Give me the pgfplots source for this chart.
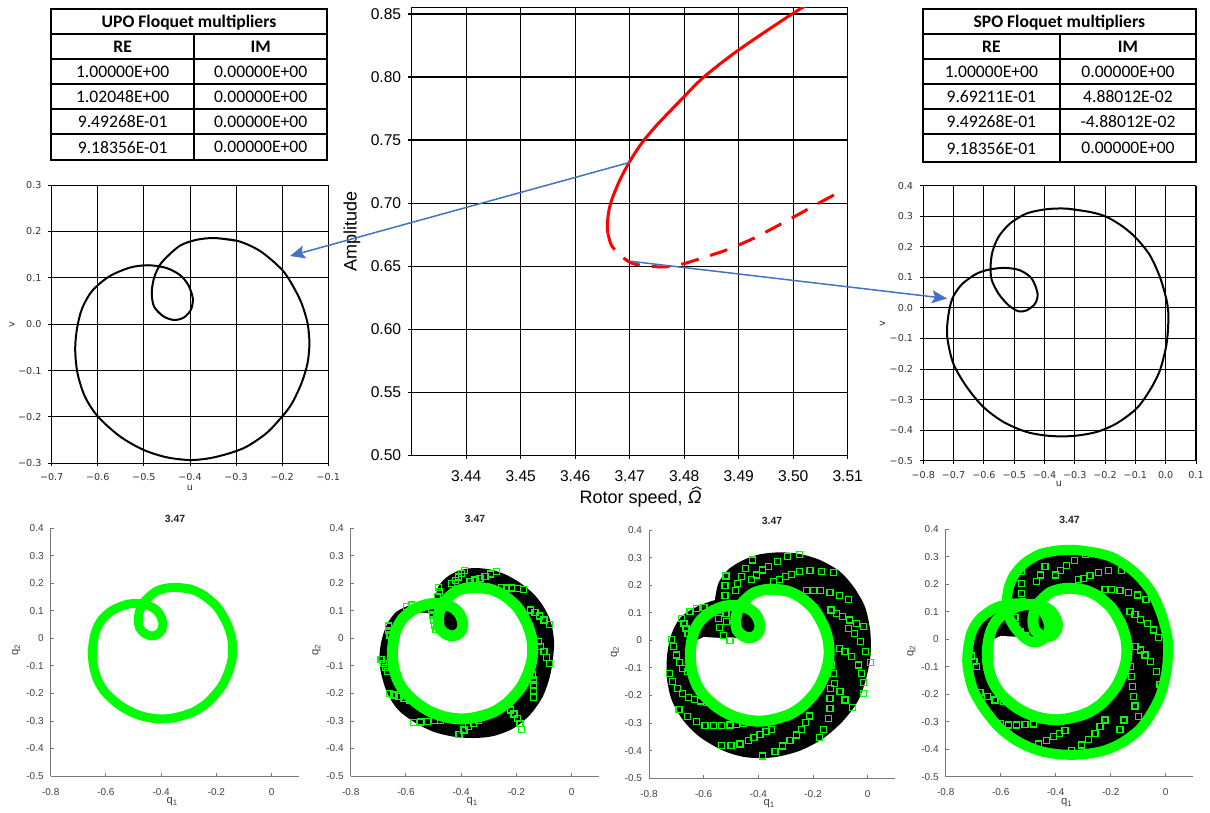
\documentclass[border=0pt]{standalone}
\usepackage{pgfplots}
\pgfplotsset{compat=1.18}
\usepackage{pgfplotstable}
\usepackage{fontspec}
\setmainfont{Liberation Sans}
\newfontfamily\dejavu{DejaVu Sans}
\newfontfamily\carlito{Carlito}
\usetikzlibrary{arrows.meta}
\definecolor{mgreen}{RGB}{0,255,0}
\definecolor{ablue}{RGB}{68,114,196}
\definecolor{mtext}{RGB}{64,64,64}
\definecolor{maxis}{RGB}{120,120,120}

\pgfplotstableread{
u v
-0.3457 0.1856
-0.295 0.179
-0.247 0.157
-0.200 0.117
-0.176 0.081
-0.158 0.045
-0.145 0.002
-0.141 -0.041
-0.145 -0.084
-0.158 -0.127
-0.179 -0.171
-0.200 -0.199
-0.234 -0.235
-0.277 -0.264
-0.313 -0.278
-0.357 -0.289
-0.400 -0.293
-0.451 -0.287
-0.501 -0.271
-0.552 -0.242
-0.600 -0.199
-0.628 -0.156
-0.644 -0.106
-0.649 -0.055
-0.645 -0.009
-0.634 0.034
-0.612 0.072
-0.575 0.103
-0.530 0.122
-0.490 0.127
-0.451 0.121
-0.422 0.106
-0.404 0.085
-0.394 0.056
-0.398 0.031
-0.414 0.014
-0.435 0.009
-0.458 0.017
-0.478 0.038
-0.483 0.067
-0.479 0.096
-0.471 0.117
-0.458 0.137
-0.422 0.169
-0.385 0.182
-0.3457 0.1856
-0.295 0.179
}\upo

\pgfplotstableread{
u v
-0.327 0.325
-0.250 0.314
-0.195 0.298
-0.140 0.265
-0.096 0.227
-0.052 0.172
-0.019 0.101
0.003 0.025
0.009 -0.029
0.003 -0.117
-0.019 -0.204
-0.052 -0.269
-0.096 -0.329
-0.162 -0.378
-0.228 -0.406
-0.305 -0.419
-0.382 -0.419
-0.459 -0.406
-0.536 -0.373
-0.602 -0.324
-0.657 -0.258
-0.701 -0.182
-0.721 -0.095
-0.718 -0.029
-0.704 0.031
-0.673 0.077
-0.624 0.112
-0.580 0.126
-0.530 0.131
-0.481 0.123
-0.442 0.096
-0.423 0.047
-0.431 0.014
-0.459 -0.008
-0.486 -0.011
-0.519 0.009
-0.552 0.047
-0.574 0.091
-0.578 0.134
-0.572 0.183
-0.552 0.232
-0.514 0.276
-0.459 0.309
-0.393 0.323
-0.327 0.325
-0.250 0.314
}\spo

\pgfplotstableread{
x y
-0.471 0.117
-0.458 0.137
-0.422 0.169
-0.385 0.182
-0.3457 0.1856
-0.295 0.179
-0.247 0.157
-0.200 0.117
-0.176 0.081
-0.158 0.045
-0.145 0.002
-0.141 -0.041
-0.145 -0.084
-0.158 -0.127
-0.179 -0.171
-0.200 -0.199
-0.234 -0.235
-0.277 -0.264
-0.313 -0.278
-0.357 -0.289
-0.400 -0.293
-0.451 -0.287
-0.501 -0.271
-0.552 -0.242
-0.600 -0.199
-0.628 -0.156
-0.644 -0.106
-0.649 -0.055
-0.645 -0.009
-0.600 0.012
-0.520 0.008
-0.458 0.010
-0.435 0.009
-0.414 0.014
-0.398 0.031
-0.394 0.056
-0.404 0.085
-0.422 0.106
-0.451 0.121
-0.471 0.117
}\holeA

\pgfplotstableread{
x y
-0.471 0.117
-0.458 0.137
-0.422 0.169
-0.385 0.182
-0.3457 0.1856
-0.295 0.179
-0.247 0.157
-0.200 0.117
-0.176 0.081
-0.158 0.045
-0.145 0.002
-0.141 -0.041
-0.145 -0.084
-0.158 -0.127
-0.179 -0.171
-0.200 -0.199
-0.234 -0.235
-0.277 -0.264
-0.313 -0.278
-0.357 -0.289
-0.400 -0.293
-0.451 -0.287
-0.501 -0.271
-0.552 -0.242
-0.600 -0.199
-0.628 -0.156
-0.644 -0.106
-0.649 -0.055
-0.645 -0.009
-0.634 0.034
-0.605 0.072
-0.560 0.095
-0.520 0.092
-0.497 0.065
-0.480 0.030
-0.458 0.015
-0.435 0.009
-0.414 0.014
-0.398 0.031
-0.394 0.056
-0.404 0.085
-0.422 0.106
-0.451 0.121
-0.471 0.117
}\holeB

\pgfplotstableread{
x y
-0.501 0.139
-0.483 0.188
-0.453 0.222
-0.416 0.243
-0.374 0.254
-0.332 0.255
-0.284 0.248
-0.235 0.230
-0.187 0.202
-0.139 0.163
-0.103 0.117
-0.076 0.061
-0.064 -0.006
-0.067 -0.067
-0.079 -0.139
-0.105 -0.212
-0.151 -0.278
-0.211 -0.327
-0.284 -0.355
-0.356 -0.362
-0.428 -0.357
-0.501 -0.339
-0.567 -0.306
-0.628 -0.260
-0.667 -0.200
-0.690 -0.127
-0.696 -0.067
-0.688 -0.006
-0.667 0.054
-0.634 0.097
-0.585 0.121
-0.537 0.133
-0.501 0.139
}\envB

\pgfplotstableread{
x y
-0.559 0.146
-0.546 0.207
-0.510 0.257
-0.455 0.291
-0.394 0.312
-0.321 0.319
-0.248 0.313
-0.174 0.291
-0.101 0.249
-0.050 0.192
-0.010 0.122
0.009 0.037
0.011 -0.047
-0.004 -0.132
-0.034 -0.217
-0.089 -0.291
-0.162 -0.355
-0.248 -0.400
-0.345 -0.424
-0.443 -0.424
-0.528 -0.400
-0.613 -0.351
-0.674 -0.291
-0.717 -0.216
-0.735 -0.132
-0.733 -0.047
-0.717 0.025
-0.687 0.080
-0.644 0.112
-0.601 0.132
-0.559 0.146
}\envC

\pgfplotstableread{
x y
-0.389 0.248
-0.400 0.235
-0.409 0.223
-0.421 0.209
-0.434 0.200
-0.482 0.185
-0.479 0.169
-0.486 0.151
-0.272 0.242
-0.293 0.234
-0.314 0.224
-0.332 0.218
-0.350 0.212
-0.368 0.206
-0.173 0.178
-0.197 0.182
-0.217 0.183
-0.235 0.183
-0.254 0.185
-0.081 0.051
-0.100 0.067
-0.117 0.081
-0.133 0.093
-0.149 0.103
-0.079 -0.091
-0.091 -0.069
-0.100 -0.048
-0.112 -0.030
-0.121 -0.012
-0.139 -0.214
-0.139 -0.190
-0.139 -0.169
-0.139 -0.151
-0.143 -0.133
-0.181 -0.331
-0.187 -0.309
-0.197 -0.291
-0.209 -0.275
-0.221 -0.260
-0.408 -0.349
-0.390 -0.333
-0.373 -0.321
-0.356 -0.309
-0.338 -0.297
-0.573 -0.306
-0.547 -0.304
-0.523 -0.301
-0.498 -0.299
-0.474 -0.297
-0.660 -0.200
-0.643 -0.206
-0.625 -0.212
-0.607 -0.218
-0.588 -0.224
-0.690 -0.076
-0.682 -0.091
-0.675 -0.105
-0.667 -0.121
-0.664 0.045
-0.662 0.028
-0.658 0.012
-0.597 0.117
-0.579 0.121
-0.507 0.103
-0.503 0.085
-0.501 0.067
-0.497 0.048
-0.491 0.033
}\armsB

\pgfplotstableread{
x y
-0.250 0.312
-0.293 0.303
-0.330 0.285
-0.363 0.269
-0.384 0.255
-0.406 0.237
-0.424 0.222
-0.422 0.291
-0.446 0.261
-0.461 0.231
-0.477 0.207
-0.485 0.182
-0.518 0.233
-0.522 0.200
-0.522 0.164
-0.522 0.128
-0.518 0.098
-0.516 0.068
-0.126 0.245
-0.168 0.251
-0.211 0.252
-0.248 0.249
-0.278 0.240
-0.302 0.231
-0.323 0.221
-0.345 0.213
-0.071 0.149
-0.104 0.164
-0.138 0.173
-0.172 0.180
-0.199 0.180
-0.223 0.182
-0.016 0.050
-0.040 0.062
-0.067 0.074
-0.091 0.086
-0.113 0.098
-0.134 0.110
0.009 -0.081
-0.007 -0.041
-0.026 -0.005
-0.049 0.025
-0.071 0.043
-0.016 -0.192
-0.016 -0.153
-0.022 -0.120
-0.034 -0.089
-0.059 -0.059
-0.083 -0.041
-0.104 -0.029
-0.056 -0.243
-0.083 -0.216
-0.101 -0.186
-0.120 -0.156
-0.126 -0.120
-0.132 -0.089
-0.177 -0.353
-0.162 -0.322
-0.144 -0.283
-0.138 -0.246
-0.138 -0.210
-0.135 -0.174
-0.384 -0.419
-0.339 -0.403
-0.311 -0.383
-0.284 -0.364
-0.260 -0.343
-0.241 -0.322
-0.226 -0.298
-0.213 -0.274
-0.534 -0.382
-0.500 -0.382
-0.467 -0.376
-0.437 -0.364
-0.416 -0.351
-0.394 -0.341
-0.372 -0.331
-0.351 -0.322
-0.595 -0.310
-0.565 -0.308
-0.534 -0.308
-0.504 -0.307
-0.479 -0.304
-0.455 -0.301
-0.690 -0.252
-0.660 -0.277
-0.626 -0.295
-0.726 -0.120
-0.715 -0.150
-0.696 -0.174
-0.677 -0.194
-0.656 -0.207
-0.634 -0.214
-0.613 -0.220
-0.591 -0.225
-0.717 0.004
-0.709 -0.023
-0.699 -0.053
-0.689 -0.081
-0.677 -0.101
-0.660 -0.114
-0.680 0.080
-0.672 0.062
-0.665 0.043
-0.657 0.025
-0.650 0.104
-0.626 0.116
-0.599 0.120
-0.550 0.110
-0.546 0.080
-0.543 0.046
-0.526 0.019
-0.504 -0.001
}\armsC

\pgfplotstableread{
x y
-0.293 0.307
-0.332 0.286
-0.360 0.267
-0.382 0.250
-0.402 0.234
-0.439 0.265
-0.455 0.234
-0.469 0.210
-0.524 0.246
-0.524 0.204
-0.524 0.167
-0.520 0.137
-0.162 0.250
-0.208 0.250
-0.245 0.243
-0.275 0.231
-0.299 0.222
-0.318 0.216
-0.072 0.146
-0.103 0.161
-0.136 0.170
-0.166 0.177
-0.196 0.180
-0.221 0.182
-0.027 0.006
-0.045 0.034
-0.067 0.056
-0.091 0.073
-0.112 0.089
-0.130 0.101
-0.021 -0.166
-0.033 -0.118
-0.055 -0.081
-0.075 -0.057
-0.093 -0.039
-0.112 -0.027
-0.099 -0.282
-0.112 -0.243
-0.118 -0.209
-0.120 -0.172
-0.124 -0.136
-0.127 -0.100
-0.166 -0.328
-0.152 -0.294
-0.342 -0.405
-0.305 -0.385
-0.281 -0.364
-0.257 -0.342
-0.239 -0.318
-0.221 -0.294
-0.499 -0.391
-0.463 -0.381
-0.433 -0.367
-0.408 -0.354
-0.387 -0.342
-0.366 -0.333
-0.602 -0.306
-0.572 -0.312
-0.542 -0.312
-0.512 -0.311
-0.481 -0.308
-0.675 -0.194
-0.648 -0.209
-0.621 -0.221
-0.590 -0.227
-0.705 -0.061
-0.697 -0.081
-0.687 -0.100
-0.548 0.080
-0.545 0.050
-0.530 0.028
-0.510 0.012
}\armsD

\pgfplotsset{
  phase/.style={scale only axis, grid=major,
    major grid style={black, line width=0.45pt},
    axis line style={black, line width=0.5pt},
    tick align=outside, tick pos=left, major tick length=1.6pt,
    tick style={black, line width=0.45pt},
    tick label style={font=\dejavu\fontsize{4.8}{5.6}\selectfont, text=black!80},
    label style={font=\dejavu\fontsize{4.8}{5.6}\selectfont, text=black!80},
    xlabel={u}, ylabel={v}},
  mat/.style={scale only axis, xmin=-0.8, xmax=0.1, ymin=-0.5, ymax=0.4,
    axis lines=left, axis line style={-, maxis, line width=0.45pt},
    tick align=inside, major tick length=1.6pt,
    tick style={maxis, line width=0.45pt},
    xtick={-0.8,-0.6,-0.4,-0.2,0}, xticklabels={-0.8,-0.6,-0.4,-0.2,0},
    ytick={-0.5,-0.4,-0.3,-0.2,-0.1,0,0.1,0.2,0.3,0.4},
    yticklabels={-0.5,-0.4,-0.3,-0.2,-0.1,0,0.1,0.2,0.3,0.4},
    tick label style={font=\fontsize{5}{6}\selectfont, text=mtext},
    xticklabel style={yshift=-2.5pt},
    title={3.47}, title style={font=\bfseries\fontsize{5.2}{6}\selectfont, text=black!85, yshift=-6.8pt},
    xlabel={q\textsubscript{1}}, ylabel={q\textsubscript{2}},
    label style={font=\fontsize{5.6}{6.5}\selectfont, text=mtext},
    xlabel style={at={(axis description cs:0.49,-0.104)}, anchor=center},
    ylabel style={at={(axis description cs:-0.138,0.509)}, anchor=center}},
  sq/.style={only marks, mark=square, mark size=1.5pt, mgreen, mark options={line width=0.6pt, solid}},
}

\newcommand{\hatOmega}{\makebox[0pt][l]{\hspace{0.2em}\raisebox{0.78em}{\tikz\draw[line width=0.45pt] (0,0)--(0.27em,0.14em)--(0.54em,0);}}{\itshape Ω}}

\begin{document}
\begin{tikzpicture}
\useasboundingbox (0pt,0pt) rectangle (605pt,-406.5pt);

% ---------- tables ----------
\begin{scope}[x=0.5pt,y=-0.5pt,every node/.style={font=\carlito\fontsize{8.8}{10}\selectfont, text depth=0pt, inner sep=0pt}]
  \draw[line width=1pt] (51,9.3) rectangle (327,160);
  \draw[line width=1pt] (51,34)--(327,34) (51,59.3)--(327,59.3) (51,84)--(327,84) (51,109)--(327,109) (51,134)--(327,134);
  \draw[line width=1pt] (194.3,34)--(194.3,160);
  \node[font=\carlito\bfseries\fontsize{8.8}{10}\selectfont] at (189,21.65) {UPO Floquet multipliers};
  \node[font=\carlito\bfseries\fontsize{8.8}{10}\selectfont] at (122.65,46.65) {RE};
  \node[font=\carlito\bfseries\fontsize{8.8}{10}\selectfont] at (260.65,46.65) {IM};
  \node at (122.65,71.65) {1.00000E+00};  \node at (260.65,71.65) {0.00000E+00};
  \node at (122.65,96.5) {1.02048E+00};   \node at (260.65,96.5) {0.00000E+00};
  \node at (122.65,121.5) {9.49268E-01};  \node at (260.65,121.5) {0.00000E+00};
  \node at (122.65,147) {9.18356E-01};    \node at (260.65,147) {0.00000E+00};

  \draw[line width=1pt] (922.7,9) rectangle (1196,161.7);
  \draw[line width=1pt] (922.7,34)--(1196,34) (922.7,59.3)--(1196,59.3) (922.7,84)--(1196,84) (922.7,109)--(1196,109) (922.7,134.3)--(1196,134.3);
  \draw[line width=1pt] (1060,34)--(1060,161.7);
  \node[font=\carlito\bfseries\fontsize{8.8}{10}\selectfont] at (1059.35,21.5) {SPO Floquet multipliers};
  \node[font=\carlito\bfseries\fontsize{8.8}{10}\selectfont] at (991.35,46.65) {RE};
  \node[font=\carlito\bfseries\fontsize{8.8}{10}\selectfont] at (1128,46.65) {IM};
  \node at (991.35,71.65) {1.00000E+00};  \node at (1128,71.65) {0.00000E+00};
  \node at (991.35,96.5) {9.69211E-01};   \node at (1128,96.5) {4.88012E-02};
  \node at (991.35,121.65) {9.49268E-01}; \node at (1128,121.65) {-4.88012E-02};
  \node at (991.35,148) {9.18356E-01};    \node at (1128,148) {0.00000E+00};
\end{scope}

% ---------- centre bifurcation plot ----------
\begin{axis}[at={(205.85pt,-3.65pt)}, anchor=north west, scale only axis,
  width=218pt, height=224pt,
  xmin=3.43, xmax=3.51, ymin=0.5, ymax=0.8553,
  xtick={3.44,3.45,3.46,3.47,3.48,3.49,3.50,3.51},
  xticklabels={3.44,3.45,3.46,3.47,3.48,3.49,3.50,3.51},
  ytick={0.50,0.55,0.60,0.65,0.70,0.75,0.80,0.85},
  yticklabels={0.50,0.55,0.60,0.65,0.70,0.75,0.80,0.85},
  grid=major, major grid style={black, line width=0.6pt},
  axis line style={black, line width=0.6pt},
  tick align=outside, tick pos=left, major tick length=1.75pt,
  tick style={black, line width=0.6pt},
  tick label style={font=\fontsize{7.8}{9}\selectfont},
  xticklabel style={yshift=-2.2pt},
  xlabel={Rotor speed, \hatOmega}, ylabel={Amplitude},
  label style={font=\fontsize{9}{10.5}\selectfont},
  xlabel style={at={(axis description cs:0.525,-0.093)}, anchor=center},
  ylabel style={at={(axis description cs:-0.137,0.5)}, anchor=center}]
\addplot[red, line width=1.5pt, smooth] coordinates {
 (3.5030,0.858) (3.5000,0.8506) (3.4900,0.8215) (3.4836,0.800) (3.4800,0.7845)
 (3.4750,0.762) (3.4722,0.7475) (3.4700,0.733) (3.4682,0.7184) (3.4667,0.7025)
 (3.4661,0.692) (3.4659,0.681) (3.4660,0.676)};
\addplot[red, line width=1.5pt, smooth, dash pattern=on 9pt off 6pt] coordinates {
 (3.4660,0.676) (3.4666,0.667) (3.4679,0.6602) (3.4704,0.6523) (3.4743,0.6497)
 (3.4774,0.6497) (3.4802,0.6523) (3.4841,0.6576) (3.4878,0.6629) (3.4921,0.6708)
 (3.4957,0.6787) (3.4997,0.688) (3.5028,0.6955) (3.5062,0.7035) (3.5086,0.7091)};
\end{axis}

% ---------- UPO phase portrait ----------
\begin{axis}[phase, at={(25.85pt,-92.5pt)}, anchor=north west,
  width=138.3pt, height=139.15pt,
  xmin=-0.7, xmax=-0.1, ymin=-0.3, ymax=0.3,
  xtick={-0.7,-0.6,-0.5,-0.4,-0.3,-0.2,-0.1},
  xticklabels={−0.7,−0.6,−0.5,−0.4,−0.3,−0.2,−0.1},
  ytick={-0.3,-0.2,-0.1,0,0.1,0.2,0.3},
  yticklabels={−0.3,−0.2,−0.1,0.0,0.1,0.2,0.3},
  xlabel style={at={(axis description cs:0.5,-0.089)}, anchor=center},
  ylabel style={at={(axis description cs:-0.1435,0.497)}, anchor=center}]
\addplot[black, line width=1pt, smooth] table[x=u,y=v] {\upo};
\end{axis}

% ---------- SPO phase portrait ----------
\begin{axis}[phase, at={(461.65pt,-92.85pt)}, anchor=north west,
  width=136.35pt, height=137.5pt,
  xmin=-0.8, xmax=0.1, ymin=-0.5, ymax=0.4,
  xtick={-0.8,-0.7,-0.6,-0.5,-0.4,-0.3,-0.2,-0.1,0,0.1},
  xticklabels={−0.8,−0.7,−0.6,−0.5,−0.4,−0.3,−0.2,−0.1,0.0,0.1},
  ytick={-0.5,-0.4,-0.3,-0.2,-0.1,0,0.1,0.2,0.3,0.4},
  yticklabels={−0.5,−0.4,−0.3,−0.2,−0.1,0.0,0.1,0.2,0.3,0.4},
  xlabel style={at={(axis description cs:0.497,-0.085)}, anchor=center},
  ylabel style={at={(axis description cs:-0.150,0.5)}, anchor=center}]
\addplot[black, line width=1pt, smooth] table[x=u,y=v] {\spo};
\end{axis}

% ---------- bottom row ----------
\begin{axis}[mat, at={(25.35pt,-264.15pt)}, anchor=north west, width=124.3pt, height=123.85pt]
\addplot[mgreen, line width=4.5pt, smooth] table[x=u,y=v] {\upo};
\end{axis}

\begin{axis}[mat, at={(175.35pt,-264.15pt)}, anchor=north west, width=124.3pt, height=123.85pt]
\addplot[fill=black, draw=none, smooth] table {\envB};
\addplot[fill=white, draw=none] table {\holeB};
\addplot[mgreen, line width=5.5pt, smooth] table[x=u,y=v] {\upo};
\addplot[sq] table {\armsB};
\end{axis}

\begin{axis}[mat, at={(324.5pt,-265pt)}, anchor=north west, width=123pt, height=124.15pt]
\addplot[fill=black, draw=none, smooth] table {\envC};
\addplot[fill=white, draw=none] table {\holeA};
\addplot[mgreen, line width=5.5pt, smooth] table[x=u,y=v] {\upo};
\addplot[sq] table {\armsC};
\end{axis}

\begin{axis}[mat, at={(472.85pt,-264.65pt)}, anchor=north west, width=123.75pt, height=123.7pt]
\addplot[fill=black, draw=none, smooth] table[x=u,y=v] {\spo};
\addplot[fill=white, draw=none] table {\holeA};
\addplot[mgreen, line width=5.5pt, smooth] table[x=u,y=v] {\upo};
\addplot[mgreen, line width=5pt, smooth] table[x=u,y=v] {\spo};
\addplot[sq] table {\armsD};
\end{axis}

% ---------- arrows ----------
\begin{scope}[x=0.5pt,y=-0.5pt]
  \draw[ablue, line width=0.75pt, -{Stealth[length=7.5pt,width=6.5pt,inset=1.5pt]}] (630,162.3) -- (290,256);
  \draw[ablue, line width=0.75pt, -{Stealth[length=7.5pt,width=6.5pt,inset=1.5pt]}] (631,261.3) -- (947,298.5);
\end{scope}
\end{tikzpicture}
\end{document}
